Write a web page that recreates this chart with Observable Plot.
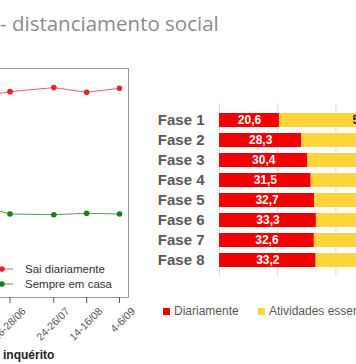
<!DOCTYPE html>
<html>
<head>
<meta charset="utf-8">
<script src="https://cdn.jsdelivr.net/npm/d3@7"></script>
<script src="https://cdn.jsdelivr.net/npm/@observablehq/plot@0.6"></script>
<style>
  body { margin: 0; background: #fff; }
  #wrap { position: relative; width: 356px; height: 364px; overflow: hidden; background: #fff; font-family: "Liberation Sans", Arial, sans-serif; }
  #title { position: absolute; left: 0; top: 9px; font-family: "Open Sans", sans-serif; font-size: 20.5px; color: #8c8c8c; white-space: nowrap; }
  #left { position: absolute; left: -100px; top: 0; width: 240px; height: 364px; }
  #right { position: absolute; left: 150px; top: 0; width: 400px; height: 364px; }
  #left svg, #right svg { max-width: none !important; overflow: visible; }
  .lg { position: absolute; white-space: nowrap; }
  #xtitle { position: absolute; left: 3px; top: 348px; font-weight: bold; font-size: 12px; color: #222; }
</style>
</head>
<body>
<div id="wrap">
  <div id="title">- distanciamento social</div>
  <div id="left"></div>
  <div id="right"></div>
  <div id="xtitle">inquérito</div>
  <div id="legL"></div>
  <div id="legR"></div>
</div>
<script>
// ---- Left chart data (survey waves) ----
const surveyDates = ["2020-05-29", "2020-06-27", "2020-07-25", "2020-08-15", "2020-09-05"];
const saiDiariamente = [31.5, 32.7, 33.3, 32.6, 33.2];
const sempreEmCasa = [16.5, 14.6, 14.5, 14.7, 14.6];
const tickDates = ["2020-06-27", "2020-07-25", "2020-08-15", "2020-09-05"];
const tickLabels = ["26-28/06", "24-26/07", "14-16/08", "4-6/09"];
const lineSeries = ["Sai diariamente", "Sempre em casa"];
const lineColors = ["#e3262b", "#237a23"];

// ---- Right chart data ----
const fases = ["Fase 1", "Fase 2", "Fase 3", "Fase 4", "Fase 5", "Fase 6", "Fase 7", "Fase 8"];
const diariamente = [20.6, 28.3, 30.4, 31.5, 32.7, 33.3, 32.6, 33.2];
const atividades = [58.3, 54.5, 53.8, 53.0, 52.6, 52.3, 52.7, 52.2];
const barSeries = ["Diariamente", "Atividades essenciais"];
const barColors = ["#f00000", "#ffd43b"];

const fmt = v => v.toFixed(1).replace(".", ",");

const lineRows = surveyDates.flatMap((d, i) => [
  {date: new Date(d), value: saiDiariamente[i], serie: lineSeries[0]},
  {date: new Date(d), value: sempreEmCasa[i], serie: lineSeries[1]}
]);
const ticks = tickDates.map((d, i) => ({date: new Date(d), label: tickLabels[i]}));

const left = Plot.plot({
  width: 240, height: 364,
  marginTop: 68, marginBottom: 67, marginLeft: 40, marginRight: 12,
  style: {fontFamily: "Liberation Sans, Arial, sans-serif", background: "transparent"},
  x: {type: "utc", domain: [new Date(tickDates[0]), new Date(tickDates[3])], range: [109.5, 219]},
  y: {domain: [0, 40], range: [312.2, 41.8], axis: null},
  color: {domain: lineSeries, range: lineColors},
  marks: [
    Plot.frame({stroke: "#9a9a9a"}),
    Plot.line(lineRows, {x: "date", y: "value", z: "serie", stroke: "serie", strokeWidth: 1, strokeOpacity: 0.75}),
    Plot.dot(lineRows, {x: "date", y: "value", fill: "serie", r: 2.8}),
    Plot.axisX({ticks: ticks.map(t => t.date), tickSize: 6, tickFormat: () => "", stroke: "#555", label: null}),
    Plot.text(ticks, {x: "date", text: "label", frameAnchor: "bottom", rotate: -45, textAnchor: "end", lineAnchor: "middle", dx: 14, dy: 12, fontSize: 10.5, fill: "#555"})
  ]
});
document.getElementById("left").appendChild(left);

const barRows = fases.flatMap((f, i) => [
  {fase: f, tipo: barSeries[0], value: diariamente[i]},
  {fase: f, tipo: barSeries[1], value: atividades[i]}
]);

const right = Plot.plot({
  width: 400, height: 364,
  marginTop: 103.4, marginBottom: 88.4, marginLeft: 69, marginRight: 40,
  style: {fontFamily: "Liberation Sans, Arial, sans-serif", background: "transparent"},
  x: {domain: [0, 100], axis: null},
  y: {domain: fases, padding: 0.32, label: null},
  color: {domain: barSeries, range: barColors},
  marks: [
    Plot.gridX({ticks: [0, 20, 40, 60, 80, 100], stroke: "#dcdcdc", strokeOpacity: 1}),
    Plot.barX(barRows, Plot.stackX({x: "value", y: "fase", fill: "tipo"})),
    Plot.text(barRows, Plot.stackX({x: "value", y: "fase", z: "tipo", text: d => d.tipo === barSeries[0] ? fmt(d.value) : "", fill: "white", fontWeight: "bold", fontSize: 12})),
    Plot.text(barRows, Plot.stackX({x: "value", y: "fase", z: "tipo", text: d => d.tipo === barSeries[1] ? fmt(d.value) : "", fill: "#222", fontWeight: "bold", fontSize: 12})),
    Plot.axisY({tickSize: 0, tickPadding: 15, fontSize: 15, fontWeight: "bold", fill: "#595959", label: null})
  ]
});
document.getElementById("right").appendChild(right);

// Left legend (line + dot swatches)
const legL = document.getElementById("legL");
lineSeries.forEach((s, i) => {
  const top = 262 + i * 14.5;
  legL.insertAdjacentHTML("beforeend",
    `<div class="lg" style="left:0;top:${top}px;height:14px;">
       <svg width="16" height="14" style="position:absolute;left:-3px;top:0"><line x1="0" x2="16" y1="7" y2="7" stroke="${lineColors[i]}" stroke-opacity="0.75"/><circle cx="5" cy="7" r="2.8" fill="${lineColors[i]}"/></svg>
       <span style="position:absolute;left:25px;top:0;font-size:11.5px;line-height:14px;color:#333;">${s}</span>
     </div>`);
});

// Right legend (square swatches)
const legR = document.getElementById("legR");
const legRx = [163, 258];
barSeries.forEach((s, i) => {
  legR.insertAdjacentHTML("beforeend",
    `<div class="lg" style="left:${legRx[i]}px;top:304px;height:14px;">
       <span style="position:absolute;left:0;top:4px;width:7px;height:7px;background:${barColors[i]}"></span>
       <span style="position:absolute;left:11px;top:0;font-size:12px;line-height:14px;color:#595959;">${s}</span>
     </div>`);
});
</script>
</body>
</html>
